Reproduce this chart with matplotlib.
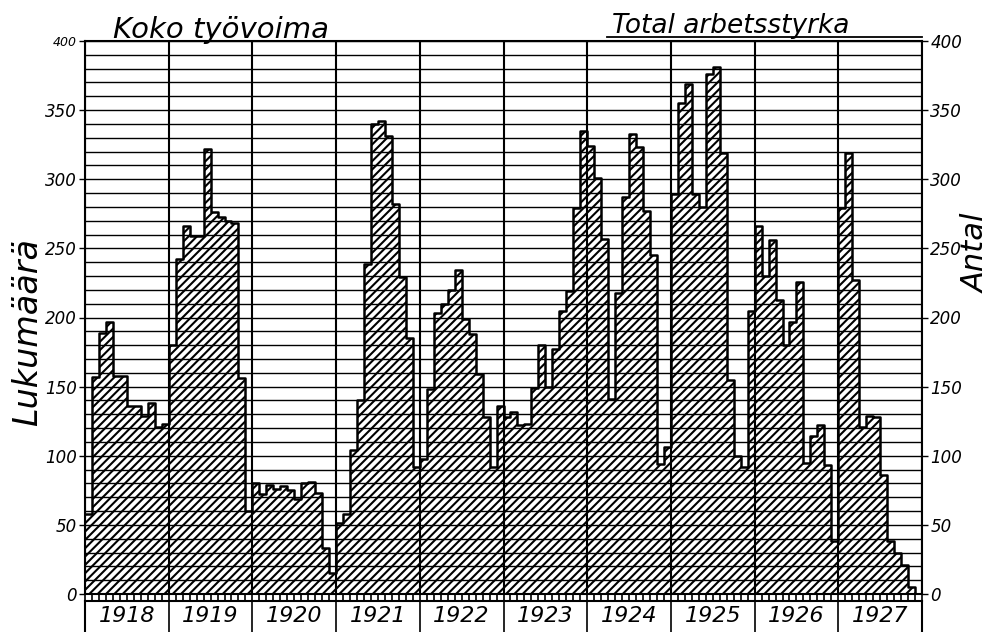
import numpy as np
import matplotlib
matplotlib.use('Agg')
import matplotlib.pyplot as plt
from matplotlib.lines import Line2D

years = ['1918', '1919', '1920', '1921', '1922', '1923', '1924', '1925', '1926', '1927']
v1918 = [58, 157, 189, 197, 158, 158, 136, 136, 129, 138, 121, 123]
v1919 = [180, 242, 266, 259, 259, 322, 276, 273, 270, 268, 156, 60]
v1920 = [80, 72, 79, 76, 78, 75, 69, 80, 81, 73, 33, 15]
v1921 = [51, 58, 104, 140, 239, 340, 342, 331, 282, 229, 185, 92]
v1922 = [98, 148, 203, 210, 220, 234, 199, 188, 159, 128, 92, 136]
v1923 = [128, 132, 122, 123, 149, 180, 150, 177, 205, 219, 279, 335]
v1924 = [324, 301, 257, 141, 218, 287, 333, 323, 277, 245, 94, 106]
v1925 = [289, 355, 369, 289, 280, 376, 381, 319, 155, 100, 92, 205]
v1926 = [266, 230, 256, 213, 180, 197, 226, 95, 114, 122, 93, 38]
v1927 = [279, 319, 227, 121, 129, 128, 86, 38, 30, 21, 5, 0]
ytick_vals = [0, 50, 100, 150, 200, 250, 300, 350, 400]
ytick_labels = ['0', '50', '100', '150', '200', '250', '300', '350', '400']

values = np.array(v1918 + v1919 + v1920 + v1921 + v1922 + v1923 + v1924 + v1925 + v1926 + v1927, dtype=float)
n = len(values)
edges = np.arange(n + 1)
yext = np.append(values, values[-1])

plt.rcParams['hatch.linewidth'] = 1.5
plt.rcParams['font.family'] = ['DejaVu Sans']

W, H = 997, 632
fig = plt.figure(figsize=(W / 100, H / 100), dpi=100)
L, R = 85 / W, 922 / W
B, T = (H - 594) / H, (H - 41) / H
ax = fig.add_axes([L, B, R - L, T - B])

ax.fill_between(edges, yext, step='post', facecolor='white', edgecolor='black',
                hatch='////', linewidth=0, zorder=2)
ax.step(edges, yext, where='post', color='black', lw=1.8, zorder=4)

ax.set_xlim(0, n)
ax.set_ylim(0, 400)
ax.set_axisbelow(False)
ax.set_yticks(ytick_vals)
ax.set_yticklabels(ytick_labels)
ax.set_yticks(np.arange(0, 401, 10), minor=True)
ax.set_xticks(np.arange(0, n + 1, 12))
ax.set_xticks(np.arange(0, n + 1, 1), minor=True)
ax.set_xticklabels([])
ax.grid(which='both', axis='y', color='black', lw=1.0)
ax.grid(which='major', axis='x', color='black', lw=1.5)
ax.tick_params(axis='x', which='both', direction='out', length=5, width=1.2, color='black')
ax.tick_params(axis='y', which='minor', length=0)
ax.tick_params(axis='y', which='major', length=4, width=1, left=True, right=True,
               labelleft=True, labelright=True, labelsize=12, pad=2)
for lab in ax.get_yticklabels(which='major'):
    lab.set_style('italic')
for t in ax.yaxis.get_major_ticks():
    t.label2.set_style('italic')
ax.yaxis.get_major_ticks()[-1].label1.set_fontsize(9)
for s in ax.spines.values():
    s.set_color('black')
    s.set_linewidth(1.5)

# year label row
axy = fig.add_axes([L, 0, R - L, (H - 601) / H])
axy.set_xlim(0, n)
axy.set_ylim(0, 1)
axy.set_xticks([])
axy.set_yticks([])
axy.spines['bottom'].set_visible(False)
for s in ['top', 'left', 'right']:
    axy.spines[s].set_linewidth(1.5)
axy.vlines(np.arange(12, n, 12), 0, 1, color='black', lw=1.2)
for i, yr in enumerate(years):
    axy.text(i * 12 + 6, 0.5, yr, ha='center', va='center', fontsize=16, style='italic')

# titles
fig.text(113 / W, 1 - 38 / H, 'Koko työvoima', fontsize=21, style='italic', va='baseline')
fig.text(612 / W, 1 - 33 / H, 'Total arbetsstyrka', fontsize=19, style='italic', va='baseline')
fig.add_artist(Line2D([607 / W, 922 / W], [1 - 37 / H, 1 - 37 / H], color='black', lw=1.3))
fig.text(28 / W, 1 - 332 / H, 'Lukumäärä', fontsize=24, style='italic', rotation=90,
         ha='center', va='center')
fig.text(976 / W, 1 - 253 / H, 'Antal', fontsize=22, style='italic', rotation=90,
         ha='center', va='center')

fig.savefig('out.png', dpi=100, facecolor='white')
